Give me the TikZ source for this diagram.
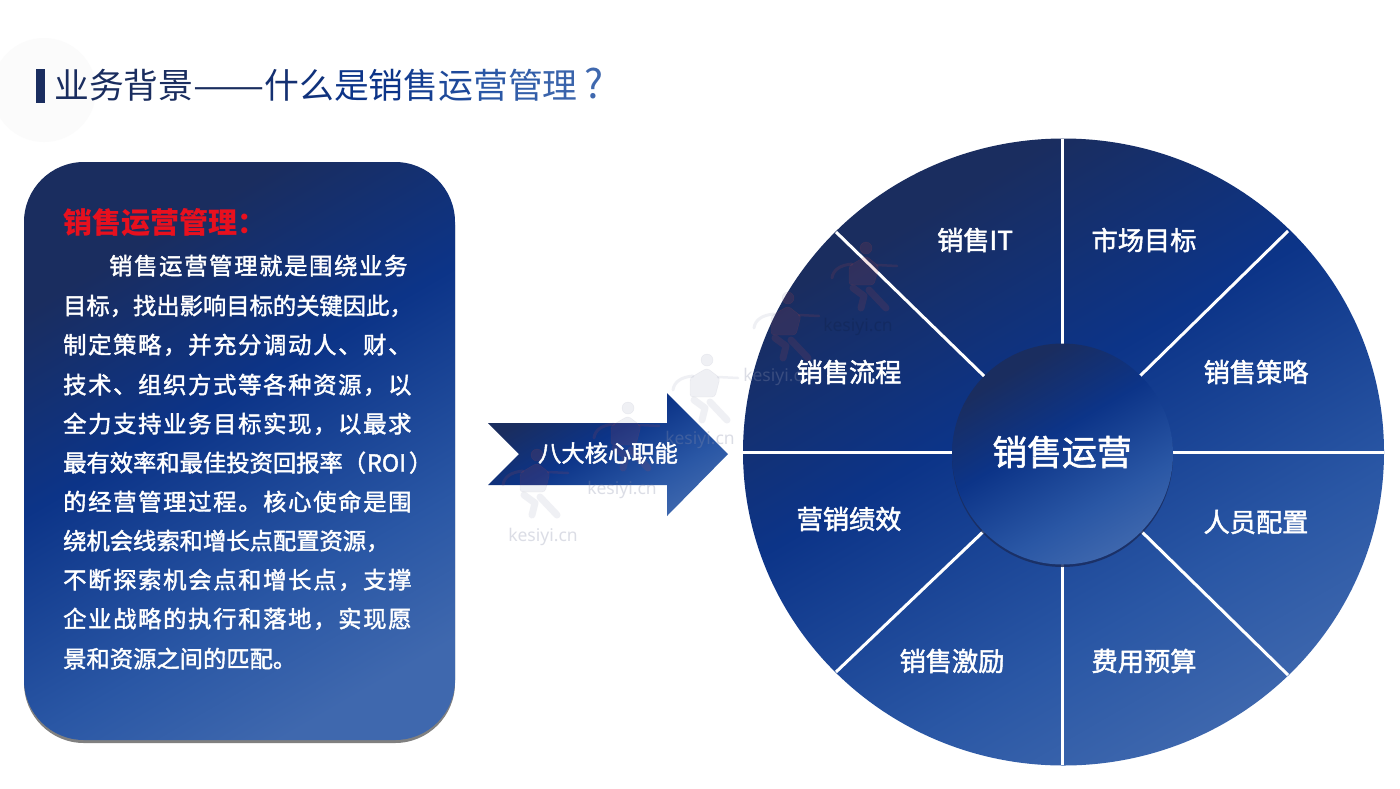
\documentclass[tikz,border=0pt]{standalone}
\usepackage{fontspec}
\usepackage{graphicx}
\setmainfont{Noto Sans CJK SC}
\newfontfamily\latinwm{Noto Sans}
\newfontfamily\cjktight[FakeBold=1.8]{Noto Sans CJK SC}
\newfontfamily\cjkspaced[LetterSpace=7.3,FakeBold=1.8]{Noto Sans CJK SC}
\definecolor{gradA}{HTML}{1A2D5F}
\definecolor{gradB}{HTML}{0C3488}
\definecolor{gradC}{HTML}{2A57A5}
\definecolor{gradD}{HTML}{3F68AE}
\definecolor{headred}{HTML}{E8101E}
\definecolor{wmgrey}{HTML}{8A90AC}
\definecolor{wmred}{HTML}{C04848}
\pgfdeclareverticalshading{bluegrad}{100bp}{color(0bp)=(gradD); color(24bp)=(gradD); color(36bp)=(gradC); color(55bp)=(gradB); color(72bp)=(gradA); color(100bp)=(gradA)}
\newcommand{\tc}[2]{\textcolor{#1}{#2}}
\tikzset{
  bluefill/.style={shading=bluegrad,shading angle=30},
  bodyspaced/.style={anchor=west,inner sep=0pt,text=white,font=\cjkspaced\fontsize{23.3}{23.3}\selectfont,text height=20pt,text depth=3pt},
  bodytight/.style={anchor=west,inner sep=0pt,text=white,font=\cjktight\fontsize{23.3}{23.3}\selectfont,text height=20pt,text depth=3pt},
  seglabel/.style={inner sep=0pt,text=white,font=\cjktight\fontsize{26.2}{26.2}\selectfont},
  spoke/.style={draw=white,line width=3pt},
  wmtext/.style={inner sep=0pt,text=wmgrey,opacity=.3,font=\latinwm\fontsize{17.5}{17.5}\selectfont},
  pics/runner/.style={code={
    \fill[pic actions] (0,0) circle (6);
    \fill[pic actions,rounded corners=3pt] (-17,18) -- (0,8) -- (13,18) -- (8,37) -- (-17,37) -- cycle;
    \draw[pic actions,fill=none,line width=3pt,line cap=round] (-14,16) .. controls (-26,17) and (-33,22) .. (-34,30);
    \draw[pic actions,fill=none,line width=2.5pt,line cap=round] (11,17) -- (31,18);
    \draw[pic actions,fill=none,line width=7pt,line cap=round,line join=round] (-13,40) -- (-2,48) -- (-5,60);
    \draw[pic actions,fill=none,line width=7pt,line cap=round,line join=round] (3,42) -- (20,60);
  }},
  wmpale/.style={fill=wmgrey,draw=wmgrey,opacity=.13},
  wmtint/.style={fill=wmred,draw=wmred,opacity=.14}
}
\begin{document}
\begin{tikzpicture}[x=1pt,y=-1pt]
\useasboundingbox (0,0) rectangle (1400,788);
\fill[white] (0,0) rectangle (1400,788);
% pale disc behind the title
\fill[black!1.5] (44,90) circle (52);
% title
\fill[gradA] (35.5,68.5) rectangle (45,103);
\node[anchor=west,inner sep=0pt,font=\fontsize{34.8}{34.8}\selectfont] (title) at (54,85)
 {\tc{gradA}{业务背景\scalebox{1.22}[1]{——}}\tc{gradA!55!gradB}{什}\tc{gradA!30!gradB}{么}\tc{gradB}{是销}\tc{gradB!70!gradC}{售}\tc{gradB!40!gradC}{运}\tc{gradC}{营}\tc{gradC!60!gradD}{管}\tc{gradC!30!gradD}{理}\hspace{7pt}\tc{gradD}{\scalebox{1.15}{?}}};
% left panel
\fill[black!50,rounded corners=60pt] (24,165) rectangle (455,743);
\path[bluefill,rounded corners=60pt] (24,162) rectangle (455,740);
\node[anchor=west,inner sep=0pt,text=headred,font=\fontsize{29}{29}\selectfont\bfseries] (panelhead) at (63,223) {销售运营管理：};
\node[bodyspaced] (l1) at (109,266) {销售运营管理就是围绕业务};
\node[bodytight] (l2) at (63,306) {目标，找出影响目标的关键因此，};
\node[bodyspaced] (l3) at (63,345) {制定策略，并充分调动人、财、};
\node[bodyspaced] (l4) at (63,385) {技术、组织方式等各种资源，以};
\node[bodyspaced] (l5) at (63,424) {全力支持业务目标实现，以最求};
\node[bodytight] (l6) at (63,463) {最有效率和最佳投资回报率（\hspace{1pt}ROI\hspace{3pt}）};
\node[bodyspaced] (l7) at (63,502) {的经营管理过程。核心使命是围};
\node[bodytight] (l8) at (63,541) {绕机会线索和增长点配置资源，};
\node[bodyspaced] (l9) at (63,580) {不断探索机会点和增长点，支撑};
\node[bodyspaced] (l10) at (63,619) {企业战略的执行和落地，实现愿};
\node[bodytight] (l11) at (63,659) {景和资源之间的匹配。};
% watermark figures on the white ground
\pic[wmpale] at (537,455) {runner};
\pic[wmpale] at (628,408) {runner};
\pic[wmpale] at (707,360) {runner};
\pic[wmpale] at (788,298) {runner};
% arrow
\path[bluefill] (488,423) -- (667,423) -- (667,393) -- (728,454) -- (667,516) -- (667,485) -- (488,485) -- (519,454) -- cycle;
% wheel
\path[bluefill] (1063.5,452) ellipse [x radius=320.5, y radius=313.5];
\coordinate (rimN) at (1062.5,139);
\coordinate (hubN) at (1062.5,345);
\coordinate (rimS) at (1062.5,765);
\coordinate (hubS) at (1062.5,562);
\coordinate (rimW) at (743,452);
\coordinate (hubW) at (953,452);
\coordinate (rimE) at (1384,452);
\coordinate (hubE) at (1172,452);
\coordinate (rimNW) at (836,232);
\coordinate (hubNW) at (985,377);
\coordinate (rimNE) at (1288,231);
\coordinate (hubNE) at (1140,376);
\coordinate (rimSW) at (836,672);
\coordinate (hubSW) at (985,530);
\coordinate (rimSE) at (1288,675);
\coordinate (hubSE) at (1140,530);
\foreach \d in {N,S,W,E,NW,NE,SW,SE}{\draw[spoke] (rim\d) -- (hub\d);}
% hub
\fill[gradA,opacity=.85] (1062.5,456.5) circle (110.5);
\path[bluefill] (1062.5,454) circle (110.5);
% watermark figures over the blue shapes
\begin{scope}
  \clip (1063.5,452) ellipse [x radius=320.5, y radius=313.5];
  \pic[wmtint] at (788,298) {runner};
  \pic[wmtint] at (866,248) {runner};
\end{scope}
\begin{scope}
  \clip (488,423) -- (667,423) -- (667,393) -- (728,454) -- (667,516) -- (667,485) -- (488,485) -- (519,454) -- cycle;
  \pic[wmtint] at (537,455) {runner};
  \pic[wmtint] at (628,408) {runner};
  \pic[wmtint] at (707,360) {runner};
\end{scope}
\node[wmtext] (wm1) at (543,537) {kesiyi.cn};
\node[wmtext] (wm2) at (622,490) {kesiyi.cn};
\node[wmtext] (wm3) at (700,440) {kesiyi.cn};
\node[wmtext] (wm4) at (778,377) {kesiyi.cn};
\node[wmtext,text=black,opacity=.1] (wm5) at (858,327) {kesiyi.cn};
% labels
\node[inner sep=0pt,text=white,font=\cjktight\fontsize{23.3}{23.3}\selectfont] (arrowlabel) at (608,453) {八大核心职能};
\node[inner sep=0pt,text=white,font=\cjktight\fontsize{34.8}{34.8}\selectfont] (hublabel) at (1062,452) {销售运营};
\node[seglabel] (s1) at (975,240) {销售IT};
\node[seglabel] (s2) at (1144,240) {市场目标};
\node[seglabel] (s3) at (1256,372) {销售策略};
\node[seglabel] (s4) at (1256,522) {人员配置};
\node[seglabel] (s5) at (1144,661) {费用预算};
\node[seglabel] (s6) at (952,661) {销售激励};
\node[seglabel] (s7) at (849,519) {营销绩效};
\node[seglabel] (s8) at (849,372) {销售流程};
\end{tikzpicture}
\end{document}
